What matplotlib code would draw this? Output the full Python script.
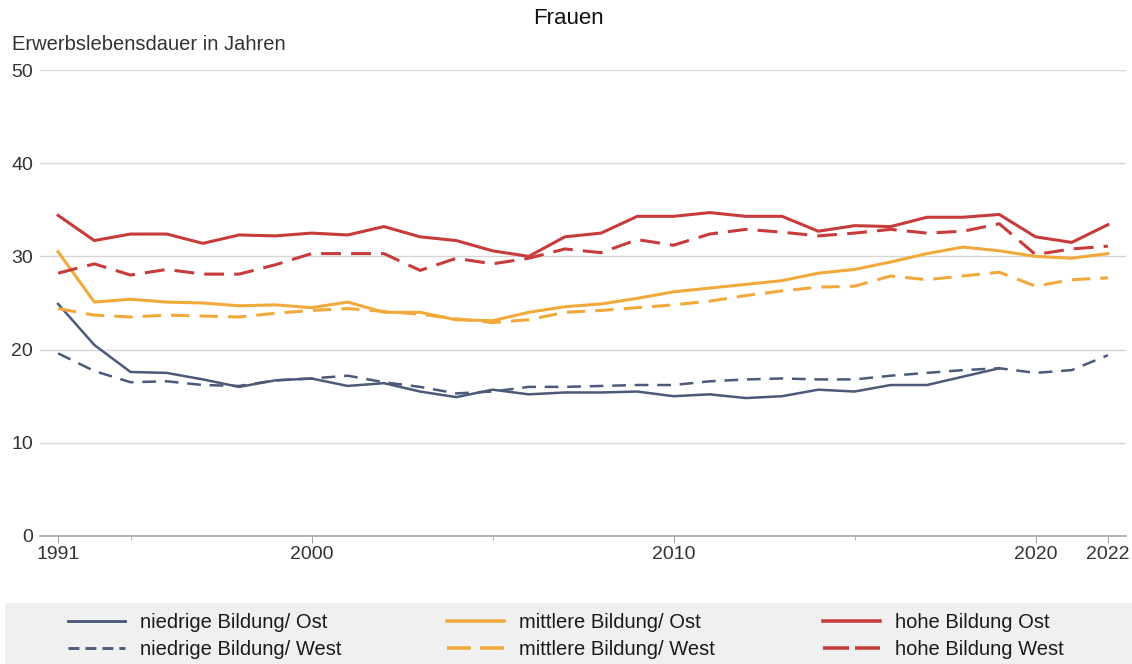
import numpy as np
import matplotlib
matplotlib.use("Agg")
import matplotlib.pyplot as plt
from matplotlib.patches import Rectangle

plt.rcParams["font.family"] = ["Liberation Sans", "DejaVu Sans"]

# x positions: one point per year, the first point is labelled 1991 in the source
years = list(range(1993, 2023))
tick_pos = [1993, 2000, 2010, 2020, 2022]
tick_labels = ["1991", "2000", "2010", "2020", "2022"]
minor_pos = [1995, 2005, 2015]

nan = np.nan
niedrig_ost = [24.9, 20.5, 17.6, 17.5, 16.8, 16.0, 16.7, 16.9, 16.1, 16.4,
               15.5, 14.9, 15.7, 15.2, 15.4, 15.4, 15.5, 15.0, 15.2, 14.8,
               15.0, 15.7, 15.5, 16.2, 16.2, 17.1, 18.0, nan, nan, nan]
niedrig_west = [19.6, 17.7, 16.5, 16.6, 16.2, 16.1, 16.7, 16.9, 17.2, 16.5,
                16.0, 15.3, 15.5, 16.0, 16.0, 16.1, 16.2, 16.2, 16.6, 16.8,
                16.9, 16.8, 16.8, 17.2, 17.5, 17.8, 18.0, 17.5, 17.8, 19.4]
mittel_ost = [30.5, 25.1, 25.4, 25.1, 25.0, 24.7, 24.8, 24.5, 25.1, 24.0,
              24.0, 23.2, 23.1, 24.0, 24.6, 24.9, 25.5, 26.2, 26.6, 27.0,
              27.4, 28.2, 28.6, 29.4, 30.3, 31.0, 30.6, 30.0, 29.8, 30.3]
mittel_west = [24.4, 23.7, 23.5, 23.7, 23.6, 23.5, 23.9, 24.2, 24.4, 24.1,
               23.8, 23.3, 22.9, 23.2, 24.0, 24.2, 24.5, 24.8, 25.2, 25.8,
               26.3, 26.7, 26.8, 27.9, 27.5, 27.9, 28.3, 26.8, 27.5, 27.7]
hoch_ost = [34.4, 31.7, 32.4, 32.4, 31.4, 32.3, 32.2, 32.5, 32.3, 33.2,
            32.1, 31.7, 30.6, 30.0, 32.1, 32.5, 34.3, 34.3, 34.7, 34.3,
            34.3, 32.7, 33.3, 33.2, 34.2, 34.2, 34.5, 32.1, 31.5, 33.4]
hoch_west = [28.2, 29.2, 28.0, 28.6, 28.1, 28.1, 29.1, 30.3, 30.3, 30.3,
             28.5, 29.8, 29.2, 29.8, 30.8, 30.4, 31.8, 31.2, 32.4, 32.9,
             32.6, 32.2, 32.5, 32.9, 32.5, 32.7, 33.5, 30.2, 30.8, 31.1]

c_blue = "#4a5a78"
c_orange = "#f2a93b"
c_red = "#c73b3a"

W, H = 1132, 664
fig = plt.figure(figsize=(W / 100, H / 100), dpi=100)
ax = fig.add_axes([40 / W, 1 - 536 / H, (1126 - 40) / W, (536 - 70) / H])

# grey legend band at the bottom
fig.patches.append(Rectangle((5 / W, 0), 1127 / W, 61 / H,
                             transform=fig.transFigure, facecolor="#f0f0f0",
                             edgecolor="none", zorder=0))

h1, = ax.plot(years, niedrig_ost, color=c_blue, lw=1.8, label="niedrige Bildung/ Ost")
h2, = ax.plot(years, niedrig_west, color=c_blue, lw=1.8, dashes=(5.5, 3.5),
              label="niedrige Bildung/ West")
h3, = ax.plot(years, mittel_ost, color=c_orange, lw=2.2, label="mittlere Bildung/ Ost")
h4, = ax.plot(years, mittel_west, color=c_orange, lw=2.2, dashes=(6, 3.3),
              label="mittlere Bildung/ West")
h5, = ax.plot(years, hoch_ost, color=c_red, lw=2.2, label="hohe Bildung Ost")
h6, = ax.plot(years, hoch_west, color=c_red, lw=2.2, dashes=(6.5, 3.3),
              label="hohe Bildung West")

ax.set_xlim(1992.5, 2022.5)
ax.set_ylim(0, 50)
ax.set_yticks([0, 10, 20, 30, 40, 50])
ax.yaxis.grid(True, color="#d6d6d6", lw=1)
ax.set_axisbelow(True)
for s in ["top", "right", "left"]:
    ax.spines[s].set_visible(False)
ax.spines["bottom"].set_color("#a6a6a6")
ax.spines["bottom"].set_linewidth(1.2)
ax.tick_params(axis="y", length=0, pad=5, labelsize=14, labelcolor="#333333")
ax.set_xticks(tick_pos)
ax.set_xticklabels(tick_labels)
ax.set_xticks(minor_pos, minor=True)
ax.tick_params(axis="x", which="major", length=5, color="#a6a6a6", pad=2,
               labelsize=14, labelcolor="#333333")
ax.tick_params(axis="x", which="minor", length=3, color="#a6a6a6")

fig.text(568 / W, 1 - 18 / H, "Frauen", ha="center", va="center",
         fontsize=16, color="#111111")
fig.text(12 / W, 1 - 45 / H, "Erwerbslebensdauer in Jahren", ha="left",
         va="center", fontsize=14.5, color="#333333")

# three legend columns, placed at the handle starts of the source
leg_fs = 14.5
fs_px = leg_fs * 100 / 72
legend_dashes = {c_blue: (3.8, 2.1), c_orange: (6.8, 2.6), c_red: (7.4, 1.7)}
for x0, hs in [(68, [h1, h2]), (447, [h3, h4]), (823, [h5, h6])]:
    leg = fig.legend(handles=hs, loc="center left",
                     bbox_to_anchor=(x0 / W, 1 - 636 / H), frameon=False,
                     fontsize=leg_fs, borderpad=0, borderaxespad=0,
                     handlelength=57 / fs_px, handletextpad=15 / fs_px,
                     labelspacing=0.36, labelcolor="#1a1a1a")
    lines = leg.get_lines()
    for ln in lines:
        ln.set_linewidth(ln.get_linewidth() * 1.15)
    lines[1].set_dashes(legend_dashes[lines[1].get_color()])

fig.savefig("out.png", dpi=100)
